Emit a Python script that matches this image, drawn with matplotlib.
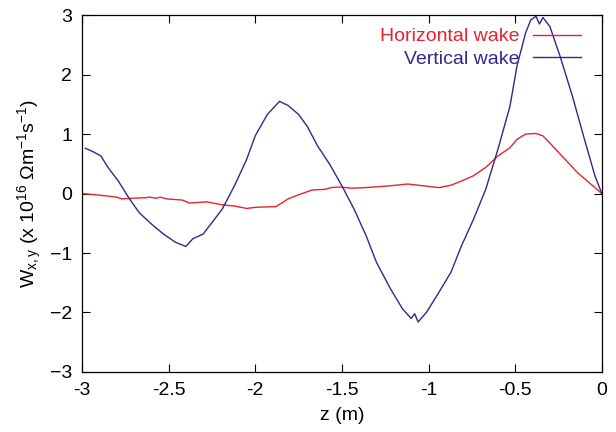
import matplotlib
matplotlib.use("Agg")
import matplotlib.pyplot as plt

plt.rcParams['font.family'] = ['Liberation Sans', 'DejaVu Sans']
plt.rcParams['mathtext.fontset'] = 'custom'
plt.rcParams['mathtext.rm'] = 'Liberation Sans'
plt.rcParams['mathtext.it'] = 'Liberation Sans'

# Vertical wake (z in m, W in 1e16 Ohm/m/s)
z_vert = [-2.98, -2.94, -2.89, -2.85, -2.79, -2.73, -2.67, -2.60, -2.53, -2.46,
          -2.40, -2.36, -2.30, -2.25, -2.19, -2.12, -2.05, -2.00, -1.93, -1.86,
          -1.81, -1.75, -1.70, -1.64, -1.57, -1.50, -1.43, -1.36, -1.30, -1.22,
          -1.15, -1.10, -1.08, -1.06, -1.01, -0.94, -0.87, -0.81, -0.74, -0.67,
          -0.60, -0.53, -0.49, -0.44, -0.41, -0.38, -0.36, -0.34, -0.30, -0.24,
          -0.17, -0.10, -0.04, 0.0]
w_vert = [0.76, 0.71, 0.63, 0.44, 0.21, -0.07, -0.32, -0.51, -0.68, -0.82,
          -0.89, -0.76, -0.68, -0.49, -0.26, 0.13, 0.57, 0.97, 1.33, 1.55,
          1.48, 1.33, 1.13, 0.80, 0.49, 0.13, -0.26, -0.71, -1.16, -1.60,
          -1.94, -2.10, -2.02, -2.16, -1.99, -1.66, -1.32, -0.88, -0.43, 0.07,
          0.74, 1.47, 2.14, 2.70, 2.92, 2.98, 2.85, 2.96, 2.81, 2.30,
          1.64, 0.91, 0.30, 0.0]

# Horizontal wake
z_horz = [-3.00, -2.89, -2.80, -2.77, -2.71, -2.63, -2.61, -2.57, -2.55, -2.51,
          -2.42, -2.38, -2.28, -2.19, -2.12, -2.05, -1.99, -1.88, -1.81, -1.74,
          -1.67, -1.60, -1.56, -1.52, -1.44, -1.36, -1.22, -1.12, -1.03, -0.94,
          -0.87, -0.81, -0.74, -0.67, -0.60, -0.53, -0.49, -0.44, -0.38, -0.34,
          -0.30, -0.23, -0.14, 0.0]
w_horz = [0.0, -0.03, -0.06, -0.09, -0.08, -0.07, -0.06, -0.08, -0.06, -0.09,
          -0.11, -0.16, -0.14, -0.19, -0.21, -0.25, -0.23, -0.22, -0.09, -0.01,
          0.06, 0.07, 0.10, 0.11, 0.09, 0.10, 0.13, 0.16, 0.13, 0.10,
          0.14, 0.21, 0.30, 0.44, 0.63, 0.77, 0.91, 1.00, 1.01, 0.97,
          0.85, 0.63, 0.35, 0.0]

x_ticks = [-3, -2.5, -2, -1.5, -1, -0.5, 0]
x_tick_labels = ['-3', '-2.5', '-2', '-1.5', '-1', '-0.5', '0']
y_ticks = [-3, -2, -1, 0, 1, 2, 3]

fig = plt.figure(figsize=(6.16, 4.32), dpi=100)
ax = fig.add_axes([0.133, 0.139, 0.844, 0.826])

ax.plot(z_horz, w_horz, color='#e8222c', lw=1.0, label='Horizontal wake')
ax.plot(z_vert, w_vert, color='#2e2a8c', lw=1.0, label='Vertical wake')

ax.set_xlim(-3, 0)
ax.set_ylim(-3, 3)
ax.set_xticks(x_ticks)
ax.set_xticklabels(x_tick_labels)
ax.set_yticks(y_ticks)
ax.tick_params(direction='in', top=True, right=True, length=6, width=0.8,
               labelsize=14, pad=7)
for s in ax.spines.values():
    s.set_linewidth(0.9)

ax.set_xlabel('z (m)', fontsize=14, labelpad=6)
ax.set_ylabel(r'W$_{x,y}$ (x 10$^{16}$ Ωm$^{-1}$s$^{-1}$)', fontsize=14, labelpad=4)

leg = ax.legend(loc='upper right', frameon=False, markerfirst=False,
                fontsize=14, handlelength=2.5, handletextpad=0.7,
                labelspacing=0.25, borderaxespad=0.25,
                bbox_to_anchor=(0.985, 1.0))
for txt, line in zip(leg.get_texts(), leg.get_lines()):
    txt.set_color(line.get_color())

fig.savefig('out.png', dpi=100)
